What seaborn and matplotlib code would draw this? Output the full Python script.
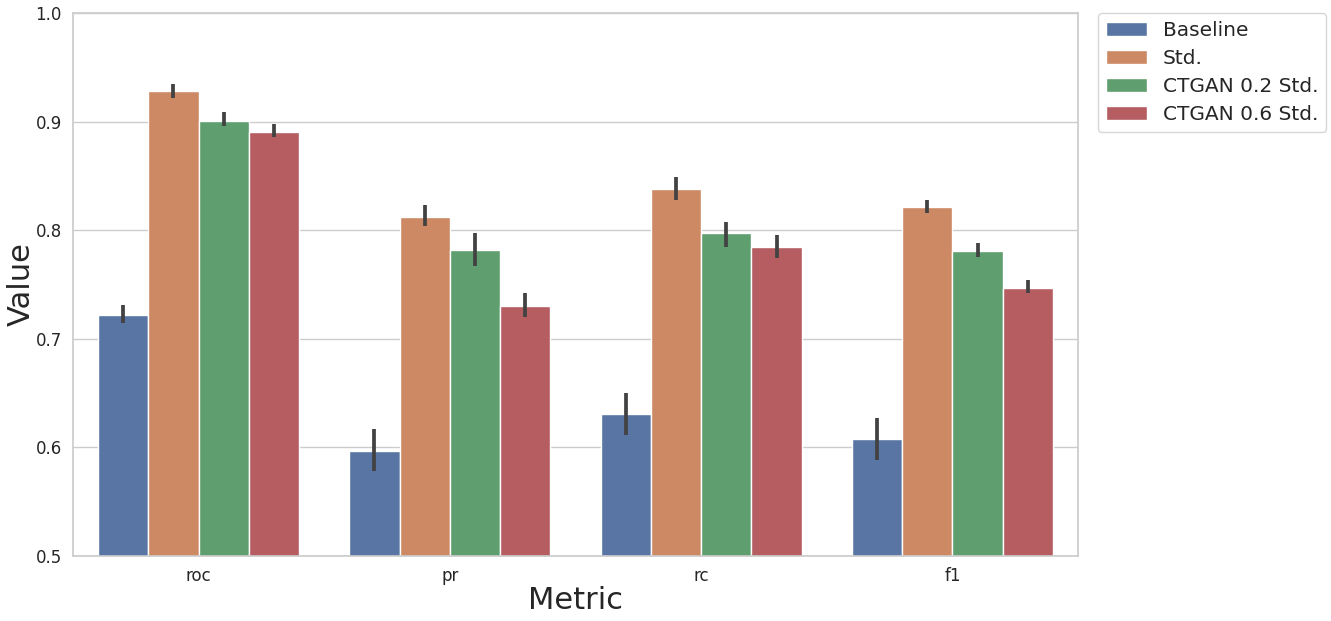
import matplotlib
matplotlib.use("Agg")
import matplotlib.pyplot as plt
import seaborn as sns
import pandas as pd

metrics = ["roc", "pr", "rc", "f1"]
methods = ["Baseline", "Std.", "CTGAN 0.2 Std.", "CTGAN 0.6 Std."]

# mean values per method (order of metrics: roc, pr, rc, f1)
baseline = [0.722, 0.597, 0.631, 0.608]
std = [0.928, 0.812, 0.838, 0.821]
ctgan02 = [0.901, 0.782, 0.797, 0.781]
ctgan06 = [0.890, 0.730, 0.785, 0.747]

# error bar lower / upper ends
baseline_lo = [0.715, 0.578, 0.611, 0.588]
baseline_hi = [0.731, 0.617, 0.650, 0.627]
std_lo = [0.922, 0.804, 0.828, 0.816]
std_hi = [0.935, 0.823, 0.849, 0.828]
ctgan02_lo = [0.896, 0.767, 0.785, 0.775]
ctgan02_hi = [0.909, 0.797, 0.808, 0.788]
ctgan06_lo = [0.886, 0.720, 0.774, 0.742]
ctgan06_hi = [0.898, 0.742, 0.796, 0.754]

means = {"Baseline": baseline, "Std.": std, "CTGAN 0.2 Std.": ctgan02, "CTGAN 0.6 Std.": ctgan06}
lows = {"Baseline": baseline_lo, "Std.": std_lo, "CTGAN 0.2 Std.": ctgan02_lo, "CTGAN 0.6 Std.": ctgan06_lo}
highs = {"Baseline": baseline_hi, "Std.": std_hi, "CTGAN 0.2 Std.": ctgan02_hi, "CTGAN 0.6 Std.": ctgan06_hi}

rows = []
for m in methods:
    for i, met in enumerate(metrics):
        rows.append({"Metric": met, "Value": means[m][i], "Method": m})
df = pd.DataFrame(rows)

sns.set_theme(style="whitegrid")
fig = plt.figure(figsize=(13.31, 6.21), dpi=100)
ax = fig.add_axes([0.0548, 0.1047, 0.7552, 0.8743])

sns.barplot(data=df, x="Metric", y="Value", hue="Method", order=metrics,
            hue_order=methods, errorbar=None, ax=ax, saturation=0.75)

for m, cont in zip(methods, ax.containers):
    for i, bar in enumerate(cont):
        xc = bar.get_x() + bar.get_width() / 2
        ax.plot([xc, xc], [lows[m][i], highs[m][i]], color=".26", lw=2.7,
                solid_capstyle="butt", zorder=5)

ax.set_xlim(-0.5, len(metrics) - 0.5)
ax.set_ylim(0.5, 1.0)
ax.set_xlabel("Metric", fontsize=22, labelpad=1)
ax.set_ylabel("Value", fontsize=22, labelpad=0)
ax.tick_params(axis="both", labelsize=12, pad=2)
ax.legend(bbox_to_anchor=(1.02, 1), loc="upper left", borderaxespad=0,
          fontsize=14.5, labelspacing=0.45)

fig.savefig("out.png", dpi=100)
